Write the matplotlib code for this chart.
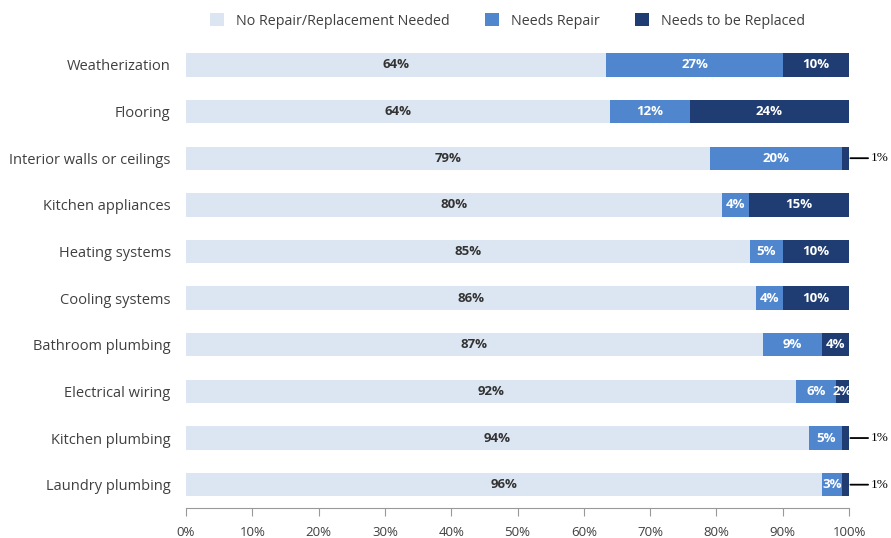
import matplotlib
matplotlib.use("Agg")
import matplotlib.pyplot as plt
import numpy as np

categories = ["Weatherization", "Flooring", "Interior walls or ceilings",
              "Kitchen appliances", "Heating systems", "Cooling systems",
              "Bathroom plumbing", "Electrical wiring", "Kitchen plumbing",
              "Laundry plumbing"]
no_repair = [64, 64, 79, 80, 85, 86, 87, 92, 94, 96]
needs_repair = [27, 12, 20, 4, 5, 4, 9, 6, 5, 3]
needs_replace = [10, 24, 1, 15, 10, 10, 4, 2, 1, 1]
series_names = ["No Repair/Replacement Needed", "Needs Repair", "Needs to be Replaced"]
xticks = [0, 10, 20, 30, 40, 50, 60, 70, 80, 90, 100]

colors = ["#DCE6F2", "#4F86CE", "#1F3D73"]
text_colors = ["#333333", "white", "white"]
FONT = "Open Sans"

W, H = 891, 538
fig = plt.figure(figsize=(W / 100, H / 100), dpi=100)
left, right = 186 / W, 849 / W
top_px, bot_px = 41.6, 508
ax = fig.add_axes([left, 1 - bot_px / H, right - left, (bot_px - top_px) / H])

data = np.array([no_repair, needs_repair, needs_replace], dtype=float)
totals = data.sum(axis=0)
shares = data / totals * 100

y = np.arange(len(categories))
cum = np.zeros(len(categories))
handles = []
for i in range(3):
    b = ax.barh(y, shares[i], left=cum, height=0.5, color=colors[i],
                label=series_names[i])
    handles.append(b)
    for j in range(len(categories)):
        val = data[i, j]
        cx = cum[j] + shares[i, j] / 2
        if i == 2 and val <= 1:
            ax.annotate(f"{int(val)}%", xy=(100, j), xytext=(103.3, j),
                        va="center", ha="left", fontsize=9.5,
                        family="Liberation Serif", color="black",
                        arrowprops=dict(arrowstyle="-", color="black", lw=1.3,
                                        shrinkA=0, shrinkB=1),
                        annotation_clip=False)
        else:
            ax.text(cx, j, f"{int(val)}%", ha="center", va="center",
                    fontsize=9.5, color=text_colors[i], family=FONT,
                    fontweight="bold", clip_on=False)
    cum += shares[i]

ax.set_xlim(0, 100)
ax.set_ylim(len(categories) - 0.5, -0.5)
ax.set_yticks(y)
ax.set_yticklabels(categories, family=FONT, fontsize=10.5, color="#404040")
ax.tick_params(axis="y", length=0, pad=11)
ax.set_xticks(xticks)
ax.set_xticklabels([f"{t}%" for t in xticks], family=FONT, fontsize=9.5, color="#404040")
ax.tick_params(axis="x", length=6, color="#999999", pad=7)
for s in ["top", "right", "left"]:
    ax.spines[s].set_visible(False)
ax.spines["bottom"].set_color("#999999")

leg = fig.legend(handles=handles, labels=series_names, loc="center left",
                 bbox_to_anchor=(210 / W, 1 - 21 / H), ncol=3, frameon=False,
                 borderpad=0, borderaxespad=0,
                 prop={"family": FONT, "size": 10.3}, handlelength=0.95,
                 handleheight=0.95, columnspacing=2.5, handletextpad=0.85)
for t in leg.get_texts():
    t.set_color("#404040")

fig.savefig("out.png", dpi=100)
